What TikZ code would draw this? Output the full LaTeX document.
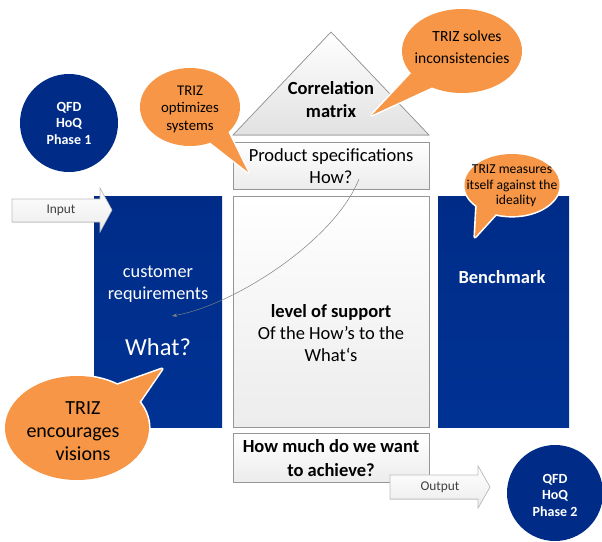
\documentclass[tikz,border=0pt]{standalone}
\usepackage{fontspec}
\setmainfont{Carlito}
\usetikzlibrary{calc,arrows.meta}

\definecolor{qblue}{RGB}{0,44,136}
\definecolor{qbluelow}{RGB}{0,50,148}
\definecolor{trizorange}{RGB}{246,150,70}
\definecolor{edgegray}{RGB}{150,150,150}
\definecolor{arrowedge}{RGB}{190,190,190}
\definecolor{panelbot}{RGB}{236,236,236}

\tikzset{
  panel/.style={draw=edgegray, line width=0.7pt, top color=white, bottom color=panelbot},
  roof/.style={draw=edgegray, line width=0.7pt, top color=white, bottom color=panelbot!90!gray},
  bluecol/.style={top color=qblue, bottom color=qbluelow, draw=none},
  phase/.style={fill=qblue, draw=none},
  flowarrow/.style={draw=arrowedge, line width=0.6pt, top color=white, bottom color=panelbot},
  whitetext/.style={text=white, align=center, inner sep=0pt},
  darktext/.style={text=black, align=center, inner sep=0pt},
  bubbleedge/.style={draw=white, line width=3.2pt, line join=round},
  bubblefill/.style={fill=trizorange, draw=none},
  linkline/.style={draw=gray, line width=0.5pt, -{Stealth[length=5pt,width=3.5pt]}},
}

% speech bubble: centre, x radius, y radius, tail angles, tail tip
\newcommand{\trizbubble}[6]{%
  \draw[bubbleedge] (#1) ellipse [x radius=#2, y radius=#3]
     ($(#1)+(#4:#2 and #3)$) -- (#6) -- ($(#1)+(#5:#2 and #3)$);
  \fill[bubblefill] (#1) ellipse [x radius=#2, y radius=#3];
  \fill[bubblefill] ($(#1)+(#4:#2 and #3)$) -- (#6) -- ($(#1)+(#5:#2 and #3)$) -- cycle;
}

\begin{document}
\begin{tikzpicture}[x=1pt,y=-1pt]
\useasboundingbox (0,0) rectangle (602,541);

% roof: correlation matrix
\filldraw[roof] (331,32) -- (429,135) -- (233,135) -- cycle;
\node[darktext, font=\fontsize{18.5}{23}\selectfont\bfseries] (corr) at (331,100) {Correlation\\matrix};

% product specifications
\draw[panel] (233,142) rectangle (429,189);
\node[darktext, font=\fontsize{18.5}{22}\selectfont] (spec) at (331,166) {Product specifications\\How?};

% central relationship matrix
\draw[panel] (233,196) rectangle (429,427);
\node[darktext, font=\fontsize{18.5}{22}\selectfont] (rel) at (331,333) {\textbf{level of support}\\Of the How’s to the\\What‘s};

% targets
\draw[panel] (233,433) rectangle (429,482);
\node[darktext, font=\fontsize{18.5}{24}\selectfont\bfseries] (target) at (331,458) {How much do we want\\to achieve?};

% customer requirements column
\fill[bluecol] (94,196) rectangle (222,427);
\node[whitetext, font=\fontsize{18.3}{22}\selectfont] (cust) at (158,284) {customer\\requirements};
\node[whitetext, font=\fontsize{24.5}{28}\selectfont] (what) at (158,347) {What?};

% benchmark column
\fill[bluecol] (438,196) rectangle (569,427);
\node[whitetext, font=\fontsize{18.5}{22}\selectfont\bfseries] (bench) at (502,277) {Benchmark};

% input arrow
\filldraw[flowarrow] (12,199) -- (100,199) -- (100,188) -- (112,210) -- (100,232) -- (100,222) -- (12,222) -- cycle;
\node[darktext, text=black!75, font=\fontsize{13.4}{15}\selectfont] (input) at (61,210.5) {Input};

% output arrow
\filldraw[flowarrow] (390,475) -- (478,475) -- (478,466) -- (490,487) -- (478,508) -- (478,499) -- (390,499) -- cycle;
\node[darktext, text=black!75, font=\fontsize{13.4}{15}\selectfont] (output) at (440,487) {Output};

% phases
\fill[phase] (69,123) circle [radius=49];
\node[whitetext, font=\fontsize{14}{16.5}\selectfont\bfseries] (ph1) at (69,123) {QFD\\HoQ\\Phase 1};
\fill[phase] (555,493) circle [radius=48];
\node[whitetext, font=\fontsize{14}{16.5}\selectfont\bfseries] (ph2) at (555,495) {QFD\\HoQ\\Phase 2};

% link from the How's to the What's
\coordinate (howend) at (359,179);
\coordinate (whatend) at (172,316);
\draw[linkline] (howend) .. controls (335,240) and (235,305) .. (whatend);

% TRIZ speech bubbles
\trizbubble{190,107}{50pt}{39pt}{-40}{-66}{248,172}
\node[darktext, font=\fontsize{14.8}{17.5}\selectfont] (opt) at (190,109) {TRIZ\\optimizes\\systems};

\trizbubble{462,51}{60pt}{42pt}{212}{240}{372,115}
\node[darktext, font=\fontsize{15.5}{22}\selectfont] (solve) at (462,47) {\hspace*{10pt}TRIZ solves\\inconsistencies};

\trizbubble{512,185}{47.5pt}{31pt}{222}{250}{475,237}
\node[darktext, font=\fontsize{13.6}{15.5}\selectfont] (meas) at (512,186) {TRIZ measures\\itself against the\\\hspace*{8pt}ideality};

\trizbubble{77,428}{72pt}{52pt}{30}{56}{162,369}
\node[darktext, font=\fontsize{20}{23}\selectfont] (enc) at (73,431) {\hspace*{20pt}TRIZ\\encourages\\\hspace*{20pt}visions};

\end{tikzpicture}
\end{document}
